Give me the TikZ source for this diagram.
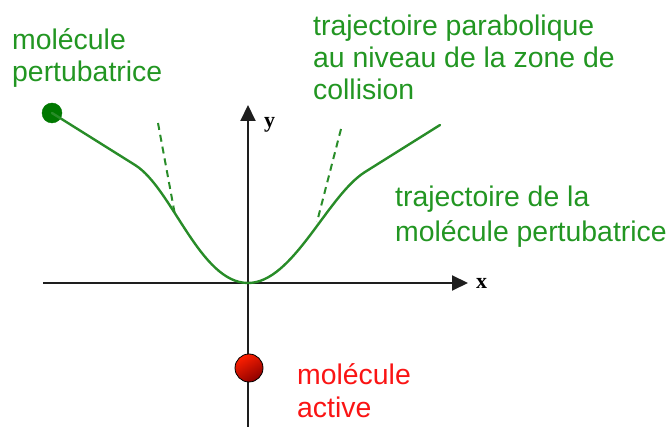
\documentclass[tikz,border=0pt]{standalone}
\usepackage{fontspec}
\setmainfont{Liberation Sans}
\newfontfamily\axisfont{Liberation Serif}
\usetikzlibrary{arrows.meta}
\definecolor{txtgreen}{RGB}{34,150,34}
\definecolor{curvegreen}{RGB}{40,140,40}
\definecolor{dotgreen}{RGB}{0,120,0}
\definecolor{txtred}{RGB}{250,20,20}
\definecolor{axisgray}{RGB}{30,30,30}
\tikzset{
  lbl/.style={anchor=base west, inner sep=0pt, font=\fontsize{28.4}{32}\selectfont},
  greenlbl/.style={lbl, text=txtgreen},
  redlbl/.style={lbl, text=txtred},
  axislbl/.style={anchor=base west, inner sep=0pt, font=\axisfont\bfseries\fontsize{22}{24}\selectfont},
  axisline/.style={draw=axisgray, line width=2pt, -{Triangle[length=16pt,width=15pt]}},
  traj/.style={draw=curvegreen, line width=2.4pt, line cap=round, line join=round},
  tangent/.style={draw=curvegreen, line width=2pt, dash pattern=on 7pt off 5pt},
}
\begin{document}
\begin{tikzpicture}[x=1pt,y=-1pt]
\useasboundingbox (0,0) rectangle (670,427);
% axes
\coordinate (xs) at (43,283);
\coordinate (xe) at (468,283);
\coordinate (ys) at (248,428);
\coordinate (ye) at (248,105);
\draw[axisline] (ys) -- (ye);
\draw[axisline] (xs) -- (xe);
\node[axislbl] (ylab) at (264,128) {y};
\node[axislbl] (xlab) at (476,289) {x};
% trajectory
\node[circle, fill=dotgreen, draw=dotgreen, minimum size=20pt, inner sep=0pt] (pert) at (52,113) {};
\coordinate (l1) at (135,165);
\coordinate (bot) at (248,283);
\coordinate (r1) at (365,172);
\coordinate (rend) at (440,125);
\draw[traj] (pert.center) -- (l1) .. controls (172,188) and (200,283) .. (bot)
   .. controls (293,283) and (327,196) .. (r1) -- (rend);
% tangents (parabolic trajectory)
\coordinate (tl1) at (158,123);
\coordinate (tl2) at (175,215);
\coordinate (tr1) at (341,129);
\coordinate (tr2) at (317,222);
\draw[tangent] (tl1) -- (tl2);
\draw[tangent] (tr1) -- (tr2);
% active molecule
\node[circle, draw=black, line width=0.8pt, minimum size=28pt, inner sep=0pt,
      shading=axis, top color=red!75!orange, bottom color=red!55!black, shading angle=30] (act) at (249,368) {};
% labels
\node[greenlbl] (t1a) at (12,50) {molécule};
\node[greenlbl] (t1b) at (12,82) {pertubatrice};
\node[greenlbl] (t2a) at (313,36) {trajectoire parabolique};
\node[greenlbl] (t2b) at (313,68) {au niveau de la zone de};
\node[greenlbl] (t2c) at (313,100) {collision};
\node[greenlbl] (t3a) at (395,207) {trajectoire de la};
\node[greenlbl] (t3b) at (395,242) {molécule pertubatrice};
\node[redlbl] (t4a) at (297,385) {molécule};
\node[redlbl] (t4b) at (297,418) {active};
\end{tikzpicture}
\end{document}
